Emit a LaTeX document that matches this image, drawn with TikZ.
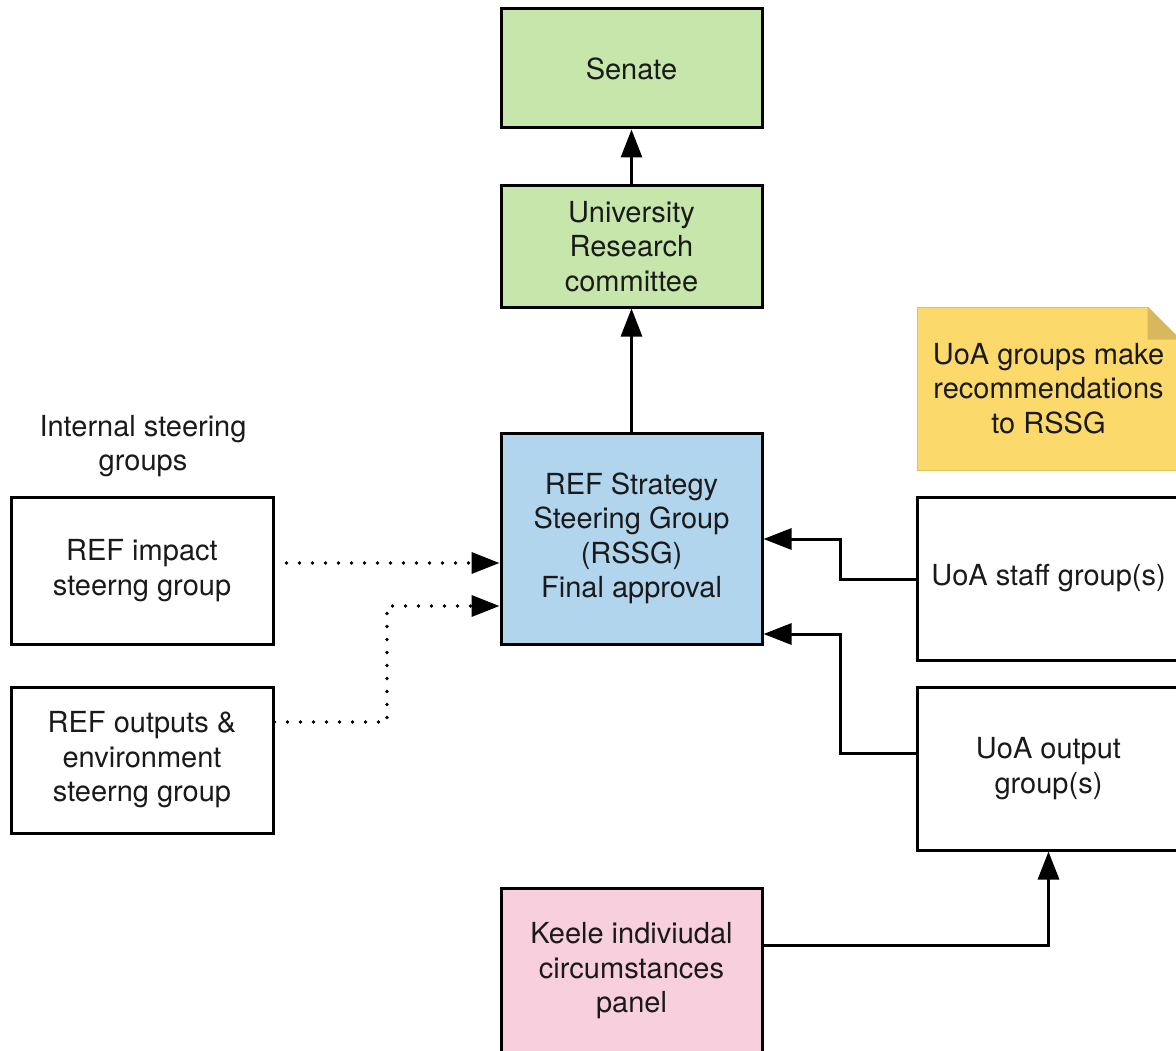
\documentclass[tikz,border=0pt]{standalone}
\usepackage{fontspec}
\setmainfont{TeX Gyre Heros}
\usetikzlibrary{arrows.meta}
\definecolor{txt}{HTML}{1A1A1A}
\definecolor{boxgreen}{HTML}{C6E6AC}
\definecolor{boxblue}{HTML}{B2D5EE}
\definecolor{boxpink}{HTML}{F8CFDC}
\definecolor{noteyellow}{HTML}{FCD96B}
\definecolor{notefold}{HTML}{D8B85C}
\tikzset{
  every node/.style={font=\fontsize{29}{34.5}\selectfont, text=txt, align=center},
  box/.style={draw=black, line width=3pt, minimum width=261pt, inner sep=0pt},
  link/.style={draw=black, line width=3pt, -{Triangle[length=28pt,width=21pt]}},
  dotlink/.style={draw=black, line width=3.6pt, line cap=round,
    dash pattern=on 0pt off 13pt, -{Triangle[length=28pt,width=21pt]}},
}
\begin{document}
\begin{tikzpicture}[x=1pt, y=-1pt]
\useasboundingbox (0,0) rectangle (1176,1051);
\clip (0,0) rectangle (1176,1051);
\fill[white] (0,0) rectangle (1176,1051);

% main chain
\node[box, fill=boxgreen, minimum height=119pt] (senate) at (631.5,68.5) {Senate};
\node[box, fill=boxgreen, minimum height=121pt] (urc) at (631.5,246.5) {University\\Research\\committee};
\node[box, fill=boxblue, minimum height=211pt] (rssg) at (631.5,538.5) {REF Strategy\\Steering Group\\(RSSG)\\Final approval};
\node[box, fill=boxpink, minimum height=166pt] (keele) at (631.5,971) {Keele indiviudal\\circumstances\\panel};

% internal steering groups
\node (islabel) at (143,446) {Internal steering\\groups};
\node[box, minimum width=262pt, minimum height=147pt] (impact) at (142,570.5) {REF impact\\steerng group};
\node[box, minimum width=262pt, minimum height=146pt] (outputs) at (142,760) {REF outputs \&\\environment\\steerng group};

% UoA groups
\node[box, minimum width=263pt, minimum height=163pt] (staff) at (1048.5,578.5) {UoA staff group(s)};
\node[box, minimum width=263pt, minimum height=163pt] (uoaout) at (1048.5,768.5) {UoA output\\group(s)};

% note with folded corner
\node[fill=noteyellow, draw=notefold!70!noteyellow, line width=1pt, minimum width=263pt, minimum height=163pt, inner sep=0pt] (note) at (1048.5,388.5) {UoA groups make\\recommendations\\to RSSG};
\fill[white] ([xshift=-33pt]note.north east) -- (note.north east) -- ([yshift=-33pt]note.north east) -- cycle;
\fill[notefold] ([xshift=-33pt]note.north east) -- ([xshift=-33pt,yshift=-33pt]note.north east) -- ([yshift=-33pt]note.north east) -- cycle;

% connectors
\draw[link] (urc.north) -- (senate.south);
\draw[link] (rssg.north) -- (urc.south);
\draw[dotlink, shorten <=12pt] (impact.east |- 0,563) -- (rssg.west |- 0,563);
\draw[dotlink] (outputs.east |- 0,722) -- (387,722) -- (387,606) -- (rssg.west |- 0,606);
\draw[link] (staff.west |- 0,579) -- (840,579) -- (840,539) -- (rssg.east |- 0,539);
\draw[link] (uoaout.west |- 0,753) -- (840,753) -- (840,634) -- (rssg.east |- 0,634);
\draw[link] (keele.east |- 0,945) -| (uoaout.south);
\end{tikzpicture}
\end{document}
